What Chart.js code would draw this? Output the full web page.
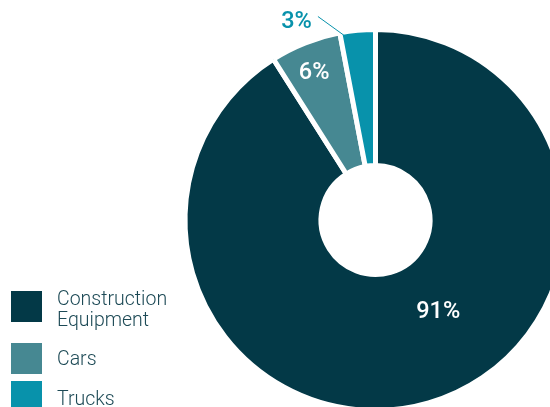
<!DOCTYPE html>
<html>
<head>
<meta charset="utf-8">
<script src="https://cdn.jsdelivr.net/npm/chart.js@4.4.1/dist/chart.umd.min.js"></script>
<style>
	html, body { margin: 0; padding: 0; width: 550px; height: 407px; overflow: hidden; background: #fff; }
	#wrap { position: relative; width: 550px; height: 407px; overflow: hidden; }
	#myChart { position: absolute; left: 0; top: 0; }
	.swatch { position: absolute; left: 11px; width: 31px; height: 31px; }
	.legend-text { position: absolute; left: 57px; width: 125px; font-family: Roboto, sans-serif; font-weight: 300; font-size: 19.5px; line-height: 21px; color: #1d4a56; }
</style>
</head>
<body>
<div id="wrap">
	<canvas id="myChart" width="580" height="420"></canvas>
	<div id="legend"></div>
</div>
<script>
var categories = ['Construction Equipment', 'Cars', 'Trucks'];
var shares = [91, 6, 3];
var percentLabels = ['91%', '6%', '3%'];
var colors = ['#033947', '#468892', '#0892ab'];

// legend rows: top of the colour box and top of the first text line
var legendBoxTop = [291, 343, 381];
var legendTextTop = [288, 348, 388];

function buildLegend() {
	var box = document.getElementById('legend');
	for (var i = 0; i < categories.length; i++) {
		var sw = document.createElement('div');
		sw.className = 'swatch';
		sw.style.top = legendBoxTop[i] + 'px';
		sw.style.background = colors[i];
		box.appendChild(sw);

		var tx = document.createElement('div');
		tx.className = 'legend-text';
		tx.style.top = legendTextTop[i] + 'px';
		tx.textContent = categories[i];
		box.appendChild(tx);
	}
}

// percentage labels: two inside the ring, the small slice gets a leader line
var sliceLabels = {
	id: 'sliceLabels',
	afterDatasetsDraw: function(chart) {
		var ctx = chart.ctx;
		var arcs = chart.getDatasetMeta(0).data;
		ctx.save();
		ctx.font = '500 23.5px Roboto';
		ctx.textBaseline = 'middle';
		arcs.forEach(function(arc, i) {
			var p = arc.getProps(['x', 'y', 'startAngle', 'endAngle', 'innerRadius', 'outerRadius'], true);
			var span = p.endAngle - p.startAngle;
			if (i === 2) {
				// outside label
				var a1 = p.startAngle + span * 0.1, r1 = p.outerRadius - 3;
				var a0 = p.startAngle - 5 * Math.PI / 180, r0 = p.outerRadius + 21;
				var x0 = p.x + Math.cos(a0) * r0, y0 = p.y + Math.sin(a0) * r0;
				ctx.strokeStyle = colors[i];
				ctx.lineWidth = 1;
				ctx.beginPath();
				ctx.moveTo(x0, y0);
				ctx.lineTo(p.x + Math.cos(a1) * r1, p.y + Math.sin(a1) * r1);
				ctx.stroke();
				ctx.fillStyle = colors[i];
				ctx.textAlign = 'right';
				ctx.fillText(percentLabels[i], x0 - 6, y0 + 6);
			} else {
				var f = i === 0 ? 0.445 : 0.45;
				var rf = i === 0 ? 0.42 : 0.77;
				var a = p.startAngle + span * f;
				var r = p.innerRadius + (p.outerRadius - p.innerRadius) * rf;
				ctx.fillStyle = '#ffffff';
				ctx.textAlign = 'center';
				ctx.fillText(percentLabels[i], p.x + Math.cos(a) * r, p.y + Math.sin(a) * r);
			}
		});
		ctx.restore();
	}
};

var chart = null;

window.onload = function() {
	buildLegend();
	var context = document.getElementById('myChart').getContext('2d');
	chart = new Chart(context, {
		type: 'doughnut',
		data: {
			labels: categories,
			datasets: [{
				data: shares,
				backgroundColor: colors,
				borderColor: '#ffffff',
				borderWidth: 5,
				hoverBorderWidth: 5,
				hoverOffset: 0,
			}]
		},
		options: {
			responsive: false,
			animation: false,
			devicePixelRatio: 1,
			cutout: '28.6%',
			layout: {
				padding: { left: 182.5, top: 27, right: 11.5, bottom: 7 }
			},
			plugins: {
				legend: { display: false },
				tooltip: { enabled: false }
			}
		},
		plugins: [sliceLabels]
	});
}
</script>
</body>
</html>
